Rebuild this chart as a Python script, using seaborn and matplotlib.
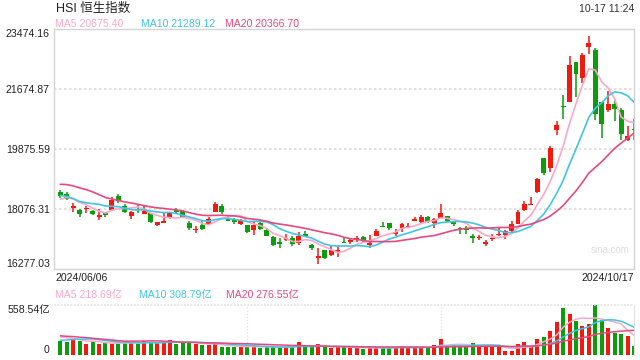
import numpy as np
import pandas as pd
import matplotlib
matplotlib.use("Agg")
import matplotlib.pyplot as plt
import seaborn as sns

# ── Data (HSI daily, 2024/06/06 – 2024/10/17) ──────────────────────────────────
opens = [18576, 18536, 18120, 18036, 18080, 18006, 17836, 17946, 18036, 18456,
         18176, 17876, 18076, 17916, 17946, 17586, 17646, 17846, 18036, 18016,
         17656, 17436, 17606, 17626, 17996, 18176, 17806, 17736, 17636, 17586,
         17456, 17656, 17436, 17236, 17076, 17156, 17196, 17056, 17326, 17006,
         16616, 16836, 16686, 16796, 17080, 17096, 17156, 17226, 17000, 17276,
         17556, 17656, 17316, 17516, 17526, 17716, 17676, 17836, 17656, 17816,
         17856, 17676, 17496, 17496, 17256, 17196, 17036, 17180, 17284, 17304,
         17404, 17634, 18054, 18194, 18584, 19604, 19304, 20454, 21174, 21284,
         22484, 22004, 22944, 22854, 21284, 21054, 21224, 21044, 20154, 20474]
highs = [18660, 18576, 18256, 18076, 18156, 18056, 18076, 17996, 18436, 18516,
         18226, 18026, 18206, 18156, 17956, 17696, 17976, 17986, 18116, 18056,
         17706, 17576, 17706, 17836, 18296, 18236, 17856, 17806, 17776, 17606,
         17676, 17686, 17506, 17256, 17206, 17336, 17256, 17376, 17406, 17036,
         16906, 16856, 16956, 16976, 17236, 17196, 17256, 17256, 17296, 17476,
         17676, 17656, 17476, 17656, 17656, 17836, 17896, 17876, 17796, 18216,
         17876, 17726, 17536, 17556, 17326, 17296, 17156, 17316, 17524, 17454,
         17704, 18054, 18304, 18424, 19004, 19604, 19954, 20724, 21504, 22674,
         22484, 22754, 23254, 22904, 21284, 21624, 21354, 21104, 20554, 20784]
lows = [18420, 18336, 17986, 17836, 17956, 17896, 17756, 17826, 18016, 18256,
        17956, 17766, 17956, 17916, 17656, 17556, 17646, 17786, 17956, 17796,
        17436, 17356, 17436, 17606, 17976, 17936, 17706, 17636, 17596, 17356,
        17296, 17436, 17256, 16956, 16906, 17106, 16956, 17006, 17236, 16856,
        16426, 16576, 16656, 16636, 17066, 17036, 17076, 17076, 16916, 17256,
        17536, 17456, 17256, 17396, 17496, 17716, 17656, 17656, 17516, 17796,
        17696, 17576, 17336, 17326, 17056, 17136, 16956, 17116, 17254, 17184,
        17384, 17624, 18024, 18184, 18544, 19084, 19184, 20284, 20784, 21284,
        21424, 21854, 22724, 20754, 20204, 20984, 20704, 20154, 20124, 20154]
closes = [18476, 18376, 18160, 17936, 18110, 17940, 17896, 17896, 18356, 18316,
          17996, 17976, 18036, 18026, 17696, 17696, 17706, 17946, 17996, 17796,
          17496, 17476, 17466, 17776, 18236, 17986, 17706, 17696, 17736, 17386,
          17606, 17476, 17276, 16986, 17036, 17196, 17016, 17276, 17276, 16916,
          16656, 16606, 16836, 16856, 17066, 17136, 17196, 17126, 17060, 17426,
          17536, 17496, 17396, 17626, 17576, 17776, 17836, 17696, 17776, 17956,
          17716, 17636, 17456, 17456, 17216, 17236, 17076, 17220, 17324, 17424,
          17624, 17984, 18224, 18224, 18984, 19154, 19904, 20604, 21134, 22404,
          22124, 22704, 23054, 20924, 20624, 21224, 21084, 20324, 20274, 20444]
# turnover, 亿
volumes = [156, 149, 190, 156, 127, 149, 127, 130, 127, 127,
           156, 134, 127, 156, 134, 134, 156, 168, 127, 134,
           141, 127, 115, 115, 127, 89, 89, 89, 89, 112,
           89, 78, 89, 89, 89, 89, 89, 141, 89, 89,
           119, 89, 82, 89, 89, 82, 82, 67, 82, 82,
           82, 82, 82, 104, 82, 82, 82, 82, 112, 179,
           93, 119, 93, 93, 134, 104, 104, 89, 89, 45,
           45, 123, 141, 93, 179, 205, 268, 372, 529, 454,
           380, 328, 350, 558, 387, 305, 249, 231, 212, 104]

# sessions before the window, only used to seed the moving averages
closes_before = [18538, 18964, 19115, 19073, 19376, 19553, 19636, 19221, 19195, 18868,
                 18609, 18827, 18821, 18477, 18230, 18079, 18403, 18444, 18425]
volumes_before = [270, 260, 280, 250, 265, 255, 270, 260, 275, 265,
                  120, 130, 125, 115, 135, 210, 230, 215, 214]

price_ticks = [16277.03, 18076.31, 19875.59, 21674.87, 23474.16]
vol_max = 558.54
ma_windows = [5, 10, 20]
price_ma_labels = ["MA5 20675.40", "MA10 21289.12", "MA20 20366.70"]
vol_ma_labels = ["MA5 218.69亿", "MA10 308.79亿", "MA20 276.55亿"]
start_label, end_label = "2024/06/06", "2024/10/17"
title = "HSI 恒生指数"
stamp = "10-17 11:24"

# ── Style ──────────────────────────────────────────────────────────────────────
RED = "#f2190f"
GREEN = "#0a9e0a"
MA_COLORS = ["#fba8c8", "#3ec6e4", "#e8487f"]
GRID = "#e0e0e0"
BORDER = "#d4d4d4"
W, H = 640, 360

sns.set_style("white")
plt.rcParams["font.family"] = ["Liberation Sans", "Noto Sans CJK SC"]


def fx(px):
    return px / W


def fy(py):
    return 1 - py / H


def moving_averages(before, values):
    s = pd.Series(list(before) + list(values), dtype=float)
    n = len(values)
    return [s.rolling(w).mean().to_numpy()[-n:] for w in ma_windows]


o = np.array(opens, float)
h = np.array(highs, float)
l = np.array(lows, float)
c = np.array(closes, float)
idx = np.arange(len(c))
up = c >= o
colors = np.where(up, RED, GREEN)

fig = plt.figure(figsize=(6.4, 3.6), dpi=100)
ax = fig.add_axes([fx(54), fy(269), fx(634) - fx(54), fy(29) - fy(269)])
axv = fig.add_axes([fx(54), fy(355), fx(634) - fx(54), fy(305) - fy(355)])

# ── Price panel ────────────────────────────────────────────────────────────────
for v in price_ticks[1:-1]:
    ax.axhline(v, color=GRID, lw=1.5, ls=(0, (1.2, 1.2)), zorder=0)

ax.vlines(idx, l, h, colors=colors, lw=1.1, zorder=2)
body_h = np.maximum(np.abs(c - o), 35)
body_bot = (o + c) / 2 - body_h / 2
ax.bar(idx, body_h, bottom=body_bot, width=0.76, color=colors, lw=0, zorder=3)

for ma, col in zip(moving_averages(closes_before, closes), MA_COLORS):
    sns.lineplot(x=idx, y=ma, ax=ax, color=col, lw=1.2, zorder=4)

ax.set_xlim(-0.99, 89)
ax.set_ylim(price_ticks[0], price_ticks[-1])
ax.set_xticks([])
ax.set_yticks(price_ticks)
ax.set_yticklabels([f"{v:.2f}" for v in price_ticks])
ax.tick_params(axis="y", length=0, pad=3, labelsize=7.6, labelcolor="#222222")
tl = ax.get_yticklabels()
tl[0].set_va("bottom")
tl[-1].set_va("top")
for s in ax.spines.values():
    s.set_color(BORDER)
    s.set_linewidth(1)
ax.set_xlabel("")
ax.set_ylabel("")
ax.text(0.992, 0.08, "sina.com", transform=ax.transAxes, ha="right", va="center",
        fontsize=7, color="#dddddd")

# ── Volume panel ───────────────────────────────────────────────────────────────
vol_df = pd.DataFrame({"i": idx, "vol": volumes, "dir": np.where(up, "up", "down")})
sns.barplot(data=vol_df, x="i", y="vol", hue="dir", palette={"up": RED, "down": GREEN},
            dodge=False, width=0.62, saturation=1, linewidth=0, legend=False, ax=axv)
for ma, col in zip(moving_averages(volumes_before, volumes), MA_COLORS):
    sns.lineplot(x=idx, y=ma, ax=axv, color=col, lw=1.1, zorder=4)

axv.set_xlim(-0.99, 89)
axv.set_ylim(0, vol_max)
axv.axhline(vol_max, color=GRID, lw=1.2, ls=(0, (1, 1)), clip_on=False)
for frac in (1 / 3, 2 / 3):
    axv.axvline(-0.99 + 89.99 * frac, color=GRID, lw=0.9, ls=(0, (1, 1.5)), zorder=0)
axv.set_xticks([])
axv.set_yticks([0, vol_max])
axv.set_yticklabels(["0", f"{vol_max:.2f}亿"])
axv.tick_params(axis="y", length=0, pad=3, labelsize=7.6, labelcolor="#222222")
vl = axv.get_yticklabels()
vl[0].set_va("bottom")
vl[-1].set_va("top")
for name, s in axv.spines.items():
    s.set_visible(name == "right")
axv.spines["right"].set_color(GRID)
axv.spines["right"].set_linestyle((0, (1, 1)))
axv.set_xlabel("")
axv.set_ylabel("")

# ── Header / footer texts ──────────────────────────────────────────────────────
fig.text(fx(56), fy(9), title, fontsize=9, color="#222222", va="center")
fig.text(fx(634), fy(9), stamp, fontsize=7.6, color="#333333", va="center", ha="right")
for lab, col, px in zip(price_ma_labels, MA_COLORS, [55, 141, 225]):
    fig.text(fx(px), fy(24), lab, fontsize=7.6, color=col, va="center")
fig.text(fx(55), fy(278), start_label, fontsize=7.6, color="#222222", va="center")
fig.text(fx(634), fy(278), end_label, fontsize=7.6, color="#222222", va="center", ha="right")
for lab, col, px in zip(vol_ma_labels, MA_COLORS, [55, 139, 226]):
    fig.text(fx(px), fy(295), lab, fontsize=7.6, color=col, va="center")

fig.savefig("out.png", dpi=100)
